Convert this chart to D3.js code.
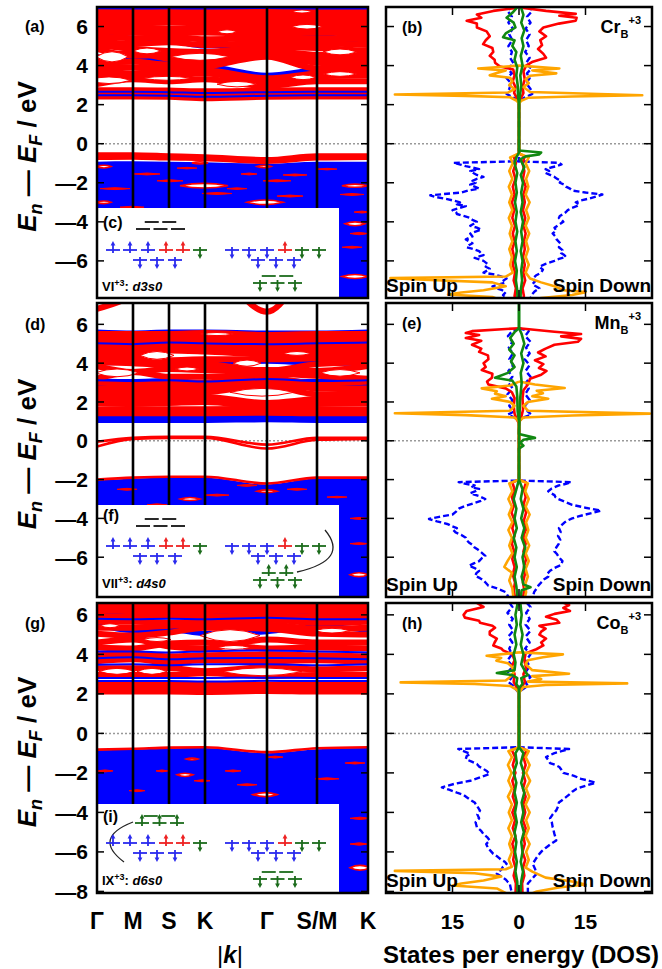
<!DOCTYPE html>
<html>
<head>
<meta charset="utf-8">
<script src="https://cdn.jsdelivr.net/npm/d3@7"></script>
<style>
body { margin: 0; background: #fff; }
text { font-family: "Liberation Sans", Arial, sans-serif; }
</style>
</head>
<body>
<div id="chart"></div>
<script>
const width = 662;
const height = 969;

// k path
const kLabels = ["Γ", "M", "S", "K", "Γ", "S/M", "K"];
const kPos = [0, 36, 72, 108, 170, 220, 271];
const eTicks = [-6, -4, -2, 0, 2, 4, 6];
const eTicksLast = [-8, -6, -4, -2, 0, 2, 4, 6];
const dosTicks = [-15, 0, 15];

// ---------- (a) Cr bands: energies at the 7 k points ----------
const aRed = [
  [2.42, 2.42, 2.40, 2.33, 2.40, 2.42, 2.42],
  [2.58, 2.58, 2.56, 2.50, 2.56, 2.58, 2.58],
  [2.74, 2.74, 2.72, 2.68, 2.72, 2.74, 2.74],
  [3.05, 3.30, 3.20, 3.30, 2.95, 3.20, 3.20],
  [3.50, 3.40, 3.50, 3.60, 3.15, 3.45, 3.50],
  [3.75, 3.60, 3.70, 3.75, 3.35, 3.60, 3.70],
  [3.95, 3.90, 3.85, 3.95, 4.45, 3.85, 3.95],
  [4.15, 4.20, 4.05, 4.10, 4.60, 4.15, 4.10],
  [4.40, 4.65, 4.35, 4.25, 4.55, 4.30, 4.35],
  [4.85, 4.50, 4.55, 4.45, 4.75, 4.55, 4.50],
  [5.05, 4.85, 4.75, 4.70, 4.95, 4.90, 4.75],
  [5.30, 5.10, 5.20, 5.05, 5.15, 5.15, 5.05],
  [5.50, 5.40, 5.45, 5.35, 5.40, 5.40, 5.35],
  [5.75, 5.70, 5.65, 5.70, 5.60, 5.70, 5.60],
  [5.95, 5.95, 5.90, 5.95, 5.85, 5.90, 5.85],
  [6.20, 6.15, 6.20, 6.20, 6.10, 6.15, 6.10],
  [6.40, 6.40, 6.45, 6.45, 6.35, 6.40, 6.35],
  [6.65, 6.65, 6.70, 6.65, 6.60, 6.60, 6.60],
  [6.85, 6.85, 6.85, 6.85, 6.80, 6.80, 6.80]
];
const aBlue = [
  [6.95, 6.93, 6.95, 6.93, 6.95, 6.93, 6.93],
  [5.65, 5.40, 5.30, 5.00, 5.15, 5.50, 5.05],
  [4.45, 4.35, 4.30, 4.55, 4.55, 4.40, 4.60],
  [3.85, 3.90, 3.85, 3.95, 3.50, 3.80, 3.90]
];
const aBlueTop = [
  [2.48, 2.48, 2.46, 2.40, 2.46, 2.48, 2.48],
  [2.66, 2.66, 2.64, 2.60, 2.64, 2.66, 2.66],
  [6.93, 6.92, 6.93, 6.92, 6.95, 6.92, 6.92]
];
const aValRed = [
  [-0.55, -0.55, -0.60, -0.65, -0.80, -0.60, -0.60],
  [-0.72, -0.70, -0.75, -0.78, -0.92, -0.75, -0.72]
];
const aValTop = [-0.92, -0.90, -0.92, -0.95, -1.02, -0.92, -0.92];
// openings between conduction bands: [k, energy, half width in k, half height in eV]
const aGapC = [[50, 4.75, 14, 0.15], [15, 4.45, 16, 0.26], [103, 4.45, 30, 0.18], [130, 5.73, 10, 0.1],
  [210, 5.99, 16, 0.12], [243, 4.7, 17, 0.15], [243, 3.57, 17, 0.12], [206, 3.4, 13, 0.12],
  [205, 6.77, 10, 0.08], [140, 3.05, 20, 0.14], [12, 3.25, 22, 0.17], [70, 3.35, 25, 0.1]];
const aLens = [[7, -1.17, 7, 0.07], [103, -0.98, 8, 0.05], [167, -1.17, 7, 0.06], [107, -2.15, 24, 0.12],
  [258, -2.15, 13, 0.08], [168, -3.0, 18, 0.12], [7, -3.0, 7, 0.07], [258, -4.1, 10, 0.1], [258, -6.8, 13, 0.1]];
const aStreak = [[50, -1.55, 13, 0.05], [73, -1.9, 13, 0.05], [152, -1.55, 8, 0.05], [198, -1.6, 12, 0.05],
  [180, -1.9, 14, 0.05], [18, -2.3, 15, 0.05], [193, -2.68, 13, 0.05], [35, -3.25, 12, 0.05],
  [120, -2.55, 15, 0.05], [255, -2.6, 12, 0.05], [265, -3.5, 8, 0.05], [262, -4.6, 9, 0.06], [255, -5.3, 10, 0.05],
  [90, -1.25, 10, 0.04], [230, -1.3, 10, 0.04], [140, -2.3, 10, 0.04]];

// ---------- (d) Mn bands ----------
const dRed = [
  [1.42, 1.42, 1.42, 1.42, 1.45, 1.42, 1.42],
  [1.62, 1.62, 1.62, 1.62, 1.65, 1.62, 1.62],
  [1.95, 1.90, 1.95, 2.00, 1.75, 1.90, 1.95],
  [2.20, 2.15, 2.20, 2.25, 1.95, 2.15, 2.20],
  [2.45, 2.45, 2.45, 2.50, 2.85, 2.40, 2.45],
  [2.70, 2.70, 2.70, 2.75, 3.05, 2.70, 2.70],
  [3.00, 2.95, 2.95, 3.00, 3.25, 2.95, 3.05],
  [3.20, 3.55, 3.30, 3.30, 3.45, 3.35, 3.20],
  [3.85, 3.55, 3.70, 3.65, 3.65, 3.60, 3.85],
  [4.05, 4.00, 3.90, 3.95, 3.60, 3.95, 4.05],
  [4.30, 4.25, 4.15, 4.20, 4.20, 4.25, 4.30],
  [4.55, 4.50, 4.65, 4.60, 4.45, 4.50, 4.55],
  [4.80, 4.75, 4.85, 4.85, 4.70, 4.75, 4.80],
  [5.05, 5.00, 5.10, 5.10, 4.95, 5.00, 5.05],
  [5.30, 5.25, 5.30, 5.35, 5.20, 5.25, 5.30],
  [5.50, 5.50, 5.50, 5.55, 5.45, 5.50, 5.50],
  [6.80, 7.50, 9.00, 9.00, 6.65, 9.00, 9.00]
];
const dNearZero = [
  [-0.30, 0.10, 0.15, 0.15, -0.40, 0.05, 0.10],
  [-0.05, 0.15, 0.20, 0.20, -0.20, 0.15, 0.15]
];
const dBlue = [
  [1.05, 1.05, 1.05, 1.05, 1.08, 1.05, 1.05],
  [1.20, 1.20, 1.20, 1.20, 1.22, 1.20, 1.20],
  [2.85, 2.90, 2.85, 2.90, 2.60, 2.90, 2.85],
  [3.10, 3.05, 3.10, 3.00, 3.15, 3.05, 3.10],
  [4.00, 4.05, 3.95, 4.00, 4.10, 4.00, 4.00],
  [5.00, 4.95, 5.05, 5.00, 4.95, 5.00, 5.05],
  [5.60, 5.55, 5.60, 5.60, 5.55, 5.55, 5.60]
];
const dBlueTop = [
  [3.12, 3.08, 3.12, 3.05, 3.18, 3.08, 3.12],
  [5.02, 4.98, 5.06, 5.02, 4.98, 5.02, 5.06]
];
const dGapC = [[60, 4.4, 17, 0.2], [150, 4.0, 14, 0.16], [20, 3.5, 22, 0.2], [243, 3.5, 20, 0.17],
  [165, 2.5, 32, 0.2], [120, 5.5, 17, 0.08], [90, 3.7, 12, 0.1], [200, 4.5, 14, 0.1]];
const dValRed = [[-2.00, -1.90, -1.85, -1.85, -2.20, -1.90, -1.90]];
const dValTop = [-2.05, -1.95, -1.90, -1.90, -2.25, -1.95, -1.95];
const dLens = [[93, -3.0, 10, 0.08], [262, -6.9, 9, 0.1], [170, -2.6, 10, 0.07]];
const dStreak = [[30, -2.5, 10, 0.05], [120, -2.8, 12, 0.05], [200, -2.5, 10, 0.05], [262, -4.0, 9, 0.05],
  [262, -5.3, 9, 0.05], [60, -3.3, 10, 0.05], [150, -2.3, 10, 0.05], [240, -2.9, 10, 0.04]];

// ---------- (g) Co bands ----------
const gRed = [
  [2.12, 2.12, 2.12, 2.10, 2.15, 2.12, 2.12],
  [2.30, 2.30, 2.30, 2.28, 2.32, 2.30, 2.30],
  [2.45, 2.45, 2.45, 2.45, 2.47, 2.45, 2.45],
  [2.95, 2.95, 2.95, 3.05, 2.90, 2.95, 2.95],
  [3.30, 3.30, 3.30, 3.15, 3.35, 3.25, 3.30],
  [3.65, 3.75, 3.60, 3.70, 3.65, 3.70, 3.60],
  [3.95, 4.00, 3.90, 3.95, 4.00, 3.95, 3.90],
  [4.35, 4.30, 4.55, 4.60, 4.30, 4.35, 4.30],
  [4.60, 4.75, 4.40, 4.30, 4.75, 4.60, 4.60],
  [5.05, 4.95, 5.10, 5.35, 5.30, 5.05, 5.00],
  [5.35, 5.35, 5.45, 5.50, 5.50, 5.30, 5.35],
  [5.65, 5.65, 5.60, 5.65, 5.75, 5.60, 5.65],
  [5.95, 5.90, 5.95, 5.90, 6.00, 5.90, 5.90],
  [6.25, 6.20, 6.20, 6.20, 6.25, 6.20, 6.20],
  [6.50, 6.50, 6.50, 6.50, 6.50, 6.50, 6.50]
];
const gBlue = [
  [5.50, 5.20, 5.25, 5.05, 5.15, 5.45, 5.20],
  [6.05, 6.10, 6.05, 6.10, 6.10, 6.05, 6.10]
];
const gBlueTop = [
  [2.65, 2.65, 2.65, 2.63, 2.66, 2.65, 2.65],
  [2.80, 2.80, 2.80, 2.80, 2.82, 2.80, 2.80],
  [3.48, 3.50, 3.45, 3.50, 3.50, 3.45, 3.50],
  [3.80, 3.85, 3.75, 3.80, 3.82, 3.80, 3.75],
  [4.15, 4.15, 4.10, 4.15, 4.20, 4.15, 4.10],
  [5.80, 5.78, 5.80, 5.78, 5.85, 5.78, 5.78]
];
const gGapC = [[20, 3.14, 18, 0.15], [55, 3.14, 15, 0.15], [165, 3.12, 40, 0.2], [133, 4.95, 30, 0.3],
  [13, 5.45, 10, 0.1], [137, 4.35, 17, 0.1], [235, 5.2, 18, 0.12], [60, 4.75, 14, 0.1]];
const gValRed = [[-0.82, -0.78, -0.72, -0.70, -0.95, -0.75, -0.70]];
const gValTop = [-0.86, -0.82, -0.76, -0.74, -1.00, -0.80, -0.74];
const gLens = [[88, -2.1, 8, 0.08], [168, -3.1, 12, 0.1], [263, -6.8, 10, 0.12], [95, -1.3, 6, 0.05]];
const gStreak = [[8, -1.9, 8, 0.05], [65, -1.9, 6, 0.05], [136, -1.9, 8, 0.05], [178, -1.2, 8, 0.05],
  [105, -2.4, 8, 0.05], [263, -4.3, 10, 0.06], [258, -1.5, 10, 0.05], [40, -2.9, 8, 0.05],
  [150, -2.6, 10, 0.05], [230, -2.3, 12, 0.05], [262, -5.6, 9, 0.06]];

// ---------- DOS: [energy, states]; spin up drawn to the left ----------
const bRedUp = [[7.1,0],[6.95,0.6],[6.8,5.8],[6.62,9.5],[6.45,8.5],[6.3,11.8],[6.15,9.5],[5.95,9.5],[5.75,7.3],[5.5,6.6],[5.3,7.5],[5.1,8.1],[4.9,6],[4.7,5.8],[4.5,6.6],[4.3,5.5],[4.15,5.4],[3.95,4.3],[3.8,1.3],[3.5,1.0],[3.2,1.4],[2.9,0.8],[2.6,1.1],[2.3,0.4],[2.1,0],[-0.5,0],[-0.65,1.2],[-1.0,0.7],[-1.4,1.3],[-1.8,0.8],[-2.2,1.4],[-2.6,1.0],[-3.0,1.6],[-3.4,1.1],[-3.8,1.5],[-4.2,0.9],[-4.6,1.4],[-5.0,1.0],[-5.4,1.5],[-5.8,1.1],[-6.2,1.4],[-6.6,0.9],[-7.0,1.2],[-7.4,0.7],[-7.8,1.0],[-8.2,0.6]];
const bRedDn = [[7.1,0],[6.95,1],[6.8,6.1],[6.65,12.8],[6.55,9.1],[6.45,13],[6.3,12.8],[6.15,9],[5.95,5.5],[5.75,4.6],[5.5,6.1],[5.3,4.8],[5.05,5.2],[4.85,4.3],[4.6,5.5],[4.4,6.1],[4.2,3.1],[4.0,1.6],[3.7,1.0],[3.3,1.3],[2.9,0.8],[2.6,1.0],[2.3,0.4],[2.1,0],[-0.5,0],[-0.65,1.3],[-1.0,0.8],[-1.4,1.2],[-1.8,0.9],[-2.2,1.5],[-2.6,1.0],[-3.0,1.3],[-3.4,0.9],[-3.8,1.4],[-4.2,1.0],[-4.6,1.5],[-5.0,1.1],[-5.4,1.3],[-5.8,0.9],[-6.2,1.3],[-6.6,1.0],[-7.0,1.4],[-7.4,0.8],[-7.8,1.1],[-8.2,0.6]];
const bOrgUp = [[4.0,0],[3.85,9.2],[3.75,3],[3.62,5],[3.5,6.6],[3.38,2],[3.2,1.5],[3.0,2.2],[2.8,1],[2.62,2.5],[2.52,28],[2.45,12],[2.38,2],[2.2,0.5],[2.05,0],[-0.5,0],[-0.7,2.0],[-1.0,1.4],[-1.4,2.2],[-1.8,1.5],[-2.2,2.3],[-2.6,1.6],[-3.0,2.2],[-3.4,1.5],[-3.8,2.3],[-4.2,1.6],[-4.6,2.1],[-5.0,1.5],[-5.4,2.2],[-5.8,1.6],[-6.2,2.0],[-6.6,1.4],[-6.8,3],[-6.88,29],[-6.98,20],[-7.1,6],[-7.3,3],[-7.5,8],[-7.62,13],[-7.72,16],[-7.85,6],[-8.2,2]];
const bOrgDn = [[4.0,0],[3.85,9.1],[3.75,3],[3.6,8.4],[3.48,2.5],[3.3,1.5],[3.1,2.2],[2.9,1],[2.65,2.5],[2.48,27.8],[2.42,12],[2.35,2],[2.2,0.5],[2.05,0],[-0.5,0],[-0.7,2.2],[-1.0,1.5],[-1.4,2.3],[-1.8,1.6],[-2.2,2.1],[-2.6,1.5],[-3.0,2.4],[-3.4,1.6],[-3.8,2.2],[-4.2,1.5],[-4.6,2.3],[-5.0,1.6],[-5.4,2.1],[-5.8,1.5],[-6.2,2.2],[-6.6,1.5],[-6.9,2.5],[-7.1,5],[-7.3,8],[-7.5,10],[-7.6,15],[-7.75,12],[-7.9,5],[-8.2,2]];
const bBluUp = [[7.1,1.5],[6.8,2.6],[6.5,1.6],[6.2,2.4],[5.9,1.4],[5.6,2.2],[5.3,1.5],[5.0,2.4],[4.7,1.6],[4.4,2.0],[4.1,1.2],[3.85,2.6],[3.6,1.6],[3.35,2.8],[3.1,1.8],[2.8,2.2],[2.55,2.8],[2.35,1.2],[2.15,0],[-0.9,0],[-0.98,14.8],[-1.08,13],[-1.15,12],[-1.22,10.5],[-1.3,9],[-1.4,11],[-1.5,10.3],[-1.6,9.5],[-1.7,8],[-1.8,9.5],[-1.9,10.5],[-2.0,9.8],[-2.1,11],[-2.2,10],[-2.3,9],[-2.4,11.5],[-2.5,13],[-2.58,17],[-2.64,20],[-2.72,19],[-2.8,17],[-2.9,15],[-3.0,13.3],[-3.1,14],[-3.2,12],[-3.3,13.5],[-3.4,15],[-3.5,14.2],[-3.6,14],[-3.7,12.5],[-3.8,11],[-3.9,10.5],[-4.0,9.5],[-4.1,10.2],[-4.2,11],[-4.3,9.5],[-4.4,8.5],[-4.5,9.8],[-4.6,11],[-4.75,10.5],[-4.9,12],[-5.0,11.2],[-5.1,10.5],[-5.2,11.3],[-5.3,11.8],[-5.4,10.2],[-5.5,9],[-5.6,8.6],[-5.7,8],[-5.78,9.2],[-5.85,10],[-5.92,9],[-6.0,8],[-6.1,7.4],[-6.2,7],[-6.3,7.5],[-6.4,6.6],[-6.5,7.2],[-6.6,8],[-6.7,5.5],[-6.8,4],[-6.9,2.8],[-7.0,3.5],[-7.1,3],[-7.2,4.5],[-7.3,6],[-7.4,5],[-7.5,3.8],[-7.6,3],[-7.75,3.6],[-7.9,2.8],[-8.2,3]];
const bBluDn = [[7.1,2.2],[6.8,3.0],[6.5,1.8],[6.2,2.6],[5.9,1.5],[5.6,2.4],[5.3,1.6],[5.0,2.2],[4.7,1.4],[4.4,2.4],[4.1,1.5],[3.85,2.8],[3.6,1.8],[3.35,2.4],[3.1,1.6],[2.8,2.6],[2.55,3.0],[2.35,1.2],[2.15,0],[-0.9,0],[-0.98,9],[-1.06,9.6],[-1.15,8.5],[-1.22,7.2],[-1.3,6],[-1.4,6.8],[-1.5,6],[-1.6,7],[-1.7,8],[-1.8,8.6],[-1.9,9.5],[-2.0,9.2],[-2.1,10.2],[-2.2,10.6],[-2.3,11.5],[-2.4,12],[-2.5,15],[-2.6,18.8],[-2.7,17.5],[-2.8,16],[-2.9,14],[-3.0,12.8],[-3.1,13.6],[-3.2,13],[-3.3,11.8],[-3.4,11],[-3.5,10.6],[-3.6,10],[-3.7,9.2],[-3.8,9],[-3.9,9.6],[-4.0,10],[-4.15,9],[-4.3,8],[-4.45,8.4],[-4.6,7.6],[-4.75,8.2],[-4.9,8.5],[-5.1,9.3],[-5.3,9],[-5.45,9.8],[-5.6,9.5],[-5.7,10.2],[-5.8,10.6],[-5.9,9],[-6.0,8],[-6.15,6],[-6.3,4.6],[-6.45,5.4],[-6.6,5],[-6.75,3.8],[-6.9,3.1],[-7.05,3.6],[-7.2,3],[-7.3,3.8],[-7.4,4.6],[-7.55,3.6],[-7.7,3],[-8.2,2]];
const bGrnUp = [[7.1,0],[6.95,0.5],[6.7,1.5],[6.45,2.8],[6.2,1.2],[5.95,0.8],[5.65,3.0],[5.45,3.6],[5.3,1.0],[5.0,1.5],[4.7,0.6],[4.3,1.0],[3.9,0.4],[3.5,0.6],[3.0,0.3],[2.4,0.2],[2.0,0],[-0.45,0],[-0.7,0.6],[-1.0,1.0],[-1.5,0.4],[-2.0,0.8],[-2.5,0.5],[-3.0,0.9],[-3.5,0.5],[-4.0,0.8],[-4.5,0.4],[-5.0,0.8],[-5.5,0.5],[-6.0,0.9],[-6.5,0.5],[-7.0,0.7],[-7.5,0.4],[-8.2,0.3]];
const bGrnDn = [[7.1,0],[6.95,0.5],[6.6,1.0],[6.2,0.5],[5.8,1.2],[5.4,0.6],[5.0,1.0],[4.5,0.4],[4.0,0.8],[3.5,0.3],[3.0,0.5],[2.0,0],[-0.35,0],[-0.45,5],[-0.55,4.5],[-0.65,1.5],[-0.8,0.3],[-1.2,1.2],[-1.6,0.4],[-2.0,0.9],[-2.5,0.5],[-3.0,0.8],[-3.5,0.4],[-4.0,0.9],[-4.5,0.5],[-5.0,0.8],[-5.5,0.4],[-6.0,0.8],[-6.5,0.5],[-7.0,0.7],[-7.5,0.4],[-8.2,0.3]];

const eRedUp = [[5.8,0],[5.65,10.6],[5.55,12],[5.45,9],[5.3,12],[5.15,8.5],[4.95,10.6],[4.75,8.5],[4.58,9],[4.4,7],[4.2,6.9],[4.0,8],[3.8,7.5],[3.65,8.4],[3.45,6],[3.25,6.1],[3.05,7.2],[2.9,6.9],[2.7,3],[2.5,1.6],[2.2,1.0],[1.8,1.2],[1.4,1.0],[1.1,0.5],[0.9,0],[-2.0,0],[-2.15,1.5],[-2.5,1.0],[-2.9,1.6],[-3.3,1.1],[-3.7,1.7],[-4.1,1.0],[-4.5,1.5],[-4.9,1.0],[-5.3,1.6],[-5.7,1.1],[-6.1,1.5],[-6.5,1.0],[-6.9,1.4],[-7.3,0.9],[-7.7,1.2],[-8.2,0.8]];
const eRedDn = [[5.8,0],[5.62,8],[5.5,14],[5.38,9.5],[5.25,14],[5.1,13.3],[4.95,8],[4.75,6],[4.55,4.3],[4.35,6],[4.15,3.6],[3.95,5.5],[3.75,4.5],[3.6,6.2],[3.4,5],[3.2,2.5],[2.9,2],[2.6,1],[2.2,0.8],[1.6,0.9],[1.2,0.5],[0.9,0],[-2.0,0],[-2.15,1.6],[-2.5,1.1],[-2.9,1.5],[-3.3,1.0],[-3.7,1.6],[-4.1,1.1],[-4.5,1.7],[-4.9,1.0],[-5.3,1.5],[-5.7,1.0],[-6.1,1.6],[-6.5,1.1],[-6.9,1.3],[-7.3,0.9],[-7.7,1.2],[-8.2,0.8]];
const eOrgUp = [[3.05,0],[2.85,2],[2.7,8.4],[2.55,5],[2.43,5.4],[2.3,3],[2.17,6.1],[2.0,2],[1.8,1],[1.55,2],[1.42,28],[1.32,12],[1.2,1],[1.0,0],[-2.0,0],[-2.2,2.2],[-2.6,1.5],[-3.0,2.4],[-3.4,1.6],[-3.8,2.3],[-4.2,1.5],[-4.6,2.4],[-5.0,1.6],[-5.4,2.2],[-5.8,1.5],[-6.2,2.6],[-6.5,3.3],[-6.8,1.6],[-7.2,2.2],[-7.6,1.5],[-8.2,1.2]];
const eOrgDn = [[3.05,0],[2.9,3.6],[2.72,10.3],[2.58,4],[2.45,5.4],[2.3,3],[2.17,6.6],[2.0,2],[1.8,1],[1.55,2],[1.4,29.5],[1.3,12],[1.2,1],[1.0,0],[-2.0,0],[-2.2,2.0],[-2.6,1.4],[-3.0,2.2],[-3.4,1.5],[-3.8,2.4],[-4.2,1.6],[-4.6,2.1],[-5.0,1.5],[-5.4,2.3],[-5.8,1.5],[-6.2,2.2],[-6.6,1.5],[-7.0,2.0],[-7.4,1.4],[-7.8,1.6],[-8.2,1.2]];
const eBluUp = [[5.8,0],[5.65,1.5],[5.4,2.5],[5.1,1.5],[4.8,2.3],[4.5,1.4],[4.2,2.2],[3.9,1.3],[3.6,2.4],[3.3,1.5],[3.0,2.5],[2.7,1.4],[2.4,2.6],[2.1,1.5],[1.8,2.2],[1.5,1.2],[1.35,2.5],[1.2,1.0],[1.0,0],[-2.05,0],[-2.13,13.6],[-2.22,12],[-2.3,10],[-2.4,10.8],[-2.48,9],[-2.6,9.8],[-2.7,11],[-2.85,9],[-3.0,7.6],[-3.1,8.6],[-3.2,10],[-3.35,12],[-3.5,13.6],[-3.65,14.2],[-3.8,15],[-3.92,18],[-4.03,20.3],[-4.15,18.5],[-4.3,16],[-4.4,15.2],[-4.5,14],[-4.6,14.8],[-4.72,14.3],[-4.85,13],[-5.0,12],[-5.12,11.8],[-5.24,11.3],[-5.38,10.4],[-5.5,10],[-5.62,9.2],[-5.75,8.5],[-5.85,8],[-5.93,7.6],[-6.05,8.4],[-6.2,9],[-6.32,10.2],[-6.44,11.3],[-6.56,10],[-6.7,9],[-6.82,9.6],[-6.96,9.9],[-7.08,8.8],[-7.2,8],[-7.34,7.4],[-7.47,6.9],[-7.62,4.8],[-7.8,3],[-8.2,2]];
const eBluDn = [[5.8,0],[5.65,2.2],[5.4,1.4],[5.1,2.6],[4.8,1.6],[4.5,2.4],[4.2,1.3],[3.9,2.4],[3.6,1.5],[3.3,2.6],[3.0,1.6],[2.7,2.2],[2.4,1.4],[2.1,2.4],[1.8,1.3],[1.5,2.0],[1.35,2.8],[1.2,1.0],[1.0,0],[-2.05,0],[-2.13,11.8],[-2.22,10.6],[-2.3,9],[-2.45,7.4],[-2.6,6.6],[-2.7,7.2],[-2.8,8],[-2.9,8.2],[-3.0,8.8],[-3.15,10.4],[-3.3,12],[-3.45,15],[-3.6,18.5],[-3.7,16.8],[-3.8,15],[-3.9,13.4],[-4.0,12],[-4.1,11],[-4.2,10.3],[-4.35,9.6],[-4.5,9],[-4.7,9.4],[-4.9,8.8],[-5.1,9.3],[-5.3,9],[-5.5,8.4],[-5.7,8],[-5.85,8.6],[-6.0,9],[-6.2,9.8],[-6.4,9.5],[-6.55,8],[-6.7,7],[-6.85,6.4],[-7.0,6.6],[-7.15,5.6],[-7.3,5],[-7.45,4.4],[-7.6,4],[-7.8,3.4],[-8.2,3]];
const eGrnUp = [[7.1,0],[5.8,0],[5.6,1.0],[5.3,2.0],[5.0,1.2],[4.7,2.2],[4.4,1.0],[4.1,1.8],[3.8,1.0],[3.5,2.5],[3.25,5.4],[3.1,1.5],[2.8,0.6],[2.3,0.4],[1.5,0.3],[1.0,0],[-2.0,0],[-2.5,0.6],[-3.0,1.2],[-3.5,0.6],[-4.0,1.0],[-4.5,0.5],[-5.0,1.2],[-5.5,0.6],[-6.0,1.0],[-6.5,0.5],[-7.0,1.0],[-7.5,0.6],[-8.2,0.3]];
const eGrnDn = [[7.1,0],[5.8,0],[5.5,0.6],[5.0,1.2],[4.5,0.5],[4.0,1.0],[3.5,0.4],[3.0,0.6],[2.0,0.2],[0.35,0],[0.15,3.6],[0.05,1.0],[-0.1,0.3],[-0.25,1.0],[-0.4,0],[-2.0,0],[-2.5,0.8],[-3.0,0.4],[-3.5,1.0],[-4.0,0.5],[-4.5,1.2],[-5.0,0.6],[-5.5,1.4],[-6.0,0.8],[-6.5,1.2],[-7.0,0.6],[-7.4,1.0],[-7.55,2.6],[-7.7,0.6],[-8.2,0.3]];

const hRedUp = [[7.0,10],[6.6,9.5],[6.4,8],[6.2,11.8],[6.0,12.5],[5.86,12.2],[5.7,9],[5.6,8.8],[5.45,6],[5.35,5.4],[5.15,6.6],[5.0,6.6],[4.8,5],[4.6,5.5],[4.45,5.8],[4.3,4],[4.2,3.6],[4.0,1.5],[3.7,1.0],[3.4,1.6],[3.0,1.0],[2.6,1.2],[2.3,0.5],[2.1,0],[-0.7,0],[-0.85,1.6],[-1.2,0.9],[-1.6,1.4],[-2.0,0.8],[-2.4,1.5],[-2.8,1.0],[-3.2,1.4],[-3.6,0.8],[-4.0,1.5],[-4.4,0.9],[-4.8,1.4],[-5.2,0.8],[-5.6,1.5],[-6.0,1.0],[-6.4,1.3],[-6.8,0.8],[-7.2,1.2],[-7.6,0.7],[-8.2,0.8]];
const hRedDn = [[7.0,6],[6.7,9.1],[6.5,11.3],[6.35,10],[6.2,11.5],[6.05,8],[5.9,6.1],[5.75,8.5],[5.6,9.1],[5.45,4.6],[5.3,6],[5.15,5],[5.0,4.6],[4.8,6.1],[4.6,5],[4.45,5.5],[4.26,3.9],[4.05,1.5],[3.7,1.2],[3.3,1.6],[3.0,1.0],[2.6,1.3],[2.3,0.5],[2.1,0],[-0.7,0],[-0.85,1.7],[-1.2,1.0],[-1.6,1.5],[-2.0,0.9],[-2.4,1.4],[-2.8,0.9],[-3.2,1.5],[-3.6,1.0],[-4.0,1.4],[-4.4,0.9],[-4.8,1.5],[-5.2,1.0],[-5.6,1.3],[-6.0,0.8],[-6.4,1.4],[-6.8,0.9],[-7.2,1.2],[-7.6,0.7],[-8.2,0.8]];
const hOrgUp = [[4.1,0],[3.93,7.3],[3.82,4],[3.68,5.1],[3.55,2.5],[3.35,1.5],[3.1,1.2],[2.85,2],[2.68,3],[2.58,26.7],[2.5,10],[2.4,2],[2.2,0.5],[2.05,0],[-0.7,0],[-0.9,2.4],[-1.2,1.6],[-1.6,2.5],[-2.0,1.7],[-2.4,2.4],[-2.8,1.6],[-3.2,2.5],[-3.6,1.6],[-4.0,2.3],[-4.4,1.6],[-4.8,2.4],[-5.2,1.6],[-5.6,2.2],[-6.0,1.6],[-6.4,2.3],[-6.75,1.6],[-6.88,3],[-6.96,28],[-7.08,10],[-7.25,4],[-7.45,8],[-7.6,13],[-7.7,15],[-7.85,5],[-8.2,2]];
const hOrgDn = [[4.1,0],[4.0,9.9],[3.85,5.4],[3.7,2],[3.5,1.5],[3.2,3],[3.02,11.3],[2.9,3],[2.75,5],[2.62,2],[2.53,24.4],[2.45,6],[2.35,1],[2.2,0.5],[2.05,0],[-0.7,0],[-0.9,2.2],[-1.2,1.5],[-1.6,2.4],[-2.0,1.6],[-2.4,2.5],[-2.8,1.6],[-3.2,2.3],[-3.6,1.5],[-4.0,2.4],[-4.4,1.6],[-4.8,2.2],[-5.2,1.5],[-5.6,2.4],[-6.0,1.6],[-6.4,2.2],[-6.8,1.5],[-7.0,3],[-7.3,6],[-7.5,12],[-7.65,15],[-7.8,9],[-8.0,4],[-8.2,2]];
const hBluUp = [[7.0,1.5],[6.7,2.4],[6.4,1.5],[6.1,2.6],[5.8,1.4],[5.5,2.2],[5.2,1.3],[4.9,2.4],[4.6,1.5],[4.3,2.2],[4.0,1.6],[3.7,2.6],[3.4,1.4],[3.1,2.5],[2.85,1.6],[2.6,2.4],[2.4,1.2],[2.2,0.6],[2.05,0],[-0.7,0],[-0.79,13.7],[-0.9,12.5],[-1.04,11],[-1.15,11.8],[-1.3,12],[-1.42,10.8],[-1.55,9.5],[-1.68,9],[-1.8,8],[-1.92,7.2],[-2.05,6.6],[-2.2,8.4],[-2.4,11],[-2.55,14.5],[-2.73,17.4],[-2.85,15.8],[-3.0,14],[-3.1,12.6],[-3.23,11.8],[-3.36,11],[-3.5,10],[-3.7,9.4],[-3.91,8.8],[-4.1,9.4],[-4.3,9],[-4.5,9.8],[-4.75,9.5],[-4.92,8.6],[-5.1,8],[-5.25,7.2],[-5.42,6.6],[-5.6,7.4],[-5.8,7],[-5.95,6.4],[-6.1,5.8],[-6.25,4.8],[-6.4,4],[-6.5,3.2],[-6.6,2.8],[-6.75,3.6],[-6.9,4],[-7.0,4.6],[-7.1,5],[-7.25,4],[-7.4,3],[-7.5,2.6],[-7.6,2.1],[-8.2,1.5]];
const hBluDn = [[7.0,2.2],[6.7,1.4],[6.4,2.6],[6.1,1.6],[5.8,2.4],[5.5,1.5],[5.2,2.6],[4.9,1.5],[4.6,2.4],[4.3,1.4],[4.0,2.6],[3.7,1.6],[3.4,2.4],[3.1,1.5],[2.85,2.6],[2.6,1.4],[2.4,2.0],[2.2,0.6],[2.05,0],[-0.7,0],[-0.79,11.3],[-0.9,9.6],[-1.0,8],[-1.1,7],[-1.2,6.1],[-1.35,6.6],[-1.5,7],[-1.6,8.2],[-1.7,9.1],[-1.85,9.6],[-2.0,10],[-2.15,12.4],[-2.3,14],[-2.4,15.8],[-2.5,17.3],[-2.65,15],[-2.8,13],[-2.95,12],[-3.1,11.3],[-3.3,10.2],[-3.5,9],[-3.7,8.8],[-3.9,8.4],[-4.1,7.6],[-4.3,7],[-4.5,7.4],[-4.75,7.6],[-4.92,7.8],[-5.1,8],[-5.25,8.2],[-5.42,8.4],[-5.6,7.2],[-5.8,6],[-5.95,5.2],[-6.1,4.6],[-6.35,3.8],[-6.6,3.1],[-6.85,3.6],[-7.1,4],[-7.35,3],[-7.6,2],[-8.2,2]];
const hGrnUp = [[7.0,0],[6.6,0.3],[6.0,0.8],[5.5,0.5],[5.0,1.0],[4.5,0.6],[4.0,1.2],[3.6,0.8],[3.2,1.0],[3.06,5],[2.95,1.5],[2.8,0.4],[2.5,0.6],[2.3,0],[-0.7,0],[-1.0,0.8],[-1.5,0.5],[-2.0,1.2],[-2.5,0.6],[-3.0,1.0],[-3.5,0.5],[-4.0,0.9],[-4.5,0.5],[-5.0,1.0],[-5.5,0.6],[-6.0,0.9],[-6.5,0.5],[-7.0,0.8],[-7.5,0.4],[-8.2,0.3]];
const hGrnDn = [[7.0,0],[6.6,0.3],[6.0,0.6],[5.5,0.3],[5.0,0.8],[4.5,0.4],[4.0,1.0],[3.5,0.5],[3.1,1.5],[2.95,2.0],[2.8,0.5],[2.5,0.8],[2.3,0],[-0.7,0],[-1.0,1.0],[-1.5,0.4],[-2.0,1.1],[-2.5,0.5],[-3.0,1.2],[-3.5,0.6],[-4.0,1.0],[-4.5,0.5],[-5.0,1.1],[-5.5,0.5],[-6.0,0.8],[-6.5,0.4],[-7.0,0.9],[-7.5,0.5],[-8.2,0.3]];

// colours
const RED = "#ff0000", BLUE = "#0000ff", ORANGE = "#ffa500", GREEN = "#118811";
const IBLUE = "#2a2aee", IRED = "#ee2222", IGREEN = "#1b6b1b";

const svg = d3.select("#chart").append("svg")
  .attr("width", width).attr("height", height);

const kx = d3.scaleLinear().domain([0, 271]).range([97, 368]);
const dx = d3.scaleLinear().domain([-30, 30]).range([386, 652]);

const rows = [
  { y0: 7, y1: 298, dom: [7.0, -7.9], ticks: eTicks },
  { y0: 303, y1: 597, dom: [7.1, -8.05], ticks: eTicks },
  { y0: 603, y1: 893, dom: [6.6, -8.08], ticks: eTicksLast }
];

let clipId = 0;
function clip(x, y, w, h) {
  const id = "clip" + (clipId++);
  svg.append("clipPath").attr("id", id).append("rect")
    .attr("x", x).attr("y", y).attr("width", w).attr("height", h);
  return svg.append("g").attr("clip-path", `url(#${id})`);
}

function lensPath(d, ey) {
  const cx = kx(d[0]), cy = ey(d[1]);
  const hw = kx(d[0] + d[2]) - cx, hh = Math.abs(ey(d[1] + d[3]) - cy);
  return `M${cx - hw},${cy}Q${cx},${cy - 2 * hh} ${cx + hw},${cy}Q${cx},${cy + 2 * hh} ${cx - hw},${cy}Z`;
}

function bandPanel(row, p) {
  const ey = d3.scaleLinear().domain(row.dom).range([row.y0, row.y1]);
  const line = d3.line().x((d, i) => kx(kPos[i])).y(d => ey(d)).curve(d3.curveMonotoneX);
  const area = d3.area().x((d, i) => kx(kPos[i])).y0(row.y1 + 10).y1(d => ey(d)).curve(d3.curveMonotoneX);
  const g = clip(97, row.y0, 271, row.y1 - row.y0);

  g.append("line").attr("x1", 97).attr("x2", 368).attr("y1", ey(0)).attr("y2", ey(0))
    .attr("stroke", "#999").attr("stroke-width", 1.5).attr("stroke-dasharray", "2,2");

  g.selectAll(null).data(p.blue).join("path").attr("d", line)
    .attr("fill", "none").attr("stroke", BLUE).attr("stroke-width", 5);
  g.append("path").datum(p.valTop).attr("d", area).attr("fill", BLUE);
  g.selectAll(null).data(p.red).join("path").attr("d", line)
    .attr("fill", "none").attr("stroke", RED).attr("stroke-width", 6);
  g.selectAll(null).data(p.gapC).join("path").attr("d", d => lensPath(d, ey))
    .attr("fill", "#fff").attr("stroke", RED).attr("stroke-width", 1);
  g.selectAll(null).data(p.thinRed).join("path").attr("d", line)
    .attr("fill", "none").attr("stroke", RED).attr("stroke-width", p.thinW);
  g.selectAll(null).data(p.blueTop).join("path").attr("d", line)
    .attr("fill", "none").attr("stroke", BLUE).attr("stroke-width", 2);
  g.selectAll(null).data(p.lens).join("path").attr("d", d => lensPath(d, ey))
    .attr("fill", "#fff").attr("stroke", RED).attr("stroke-width", 1.6);
  g.selectAll(null).data(p.streak).join("path").attr("d", d => lensPath(d, ey))
    .attr("fill", RED).attr("stroke", RED).attr("stroke-width", 1);

  // high symmetry lines
  g.selectAll(null).data(kPos.slice(1, 6)).join("line")
    .attr("x1", d => kx(d)).attr("x2", d => kx(d)).attr("y1", row.y0).attr("y2", row.y1)
    .attr("stroke", "#000").attr("stroke-width", 2.6);

  inset(p.inset, row.y1);

  // ticks and frame
  const t = svg.append("g");
  row.ticks.forEach(v => {
    t.append("line").attr("x1", 97).attr("x2", 104).attr("y1", ey(v)).attr("y2", ey(v)).attr("stroke", "#000").attr("stroke-width", 1.5);
    t.append("line").attr("x1", 361).attr("x2", 368).attr("y1", ey(v)).attr("y2", ey(v)).attr("stroke", "#000").attr("stroke-width", 1.5);
    t.append("text").attr("x", 88).attr("y", ey(v)).attr("dy", "0.36em")
      .attr("text-anchor", "end").attr("font-size", 21).attr("font-weight", "bold")
      .text(v < 0 ? "—" + Math.abs(v) : v);
  });
  t.append("rect").attr("x", 97).attr("y", row.y0).attr("width", 271).attr("height", row.y1 - row.y0)
    .attr("fill", "none").attr("stroke", "#000").attr("stroke-width", 2.5);

  svg.append("text").attr("x", 25).attr("y", row.y0 + p.tagDy)
    .attr("font-family", "DejaVu Sans").attr("font-weight", "bold").attr("font-size", 16).text(p.tag);

  // axis label
  const lab = svg.append("text").attr("transform", `translate(36,${(row.y0 + row.y1) / 2 + 4}) rotate(-90)`)
    .attr("text-anchor", "middle").attr("font-size", 26).attr("font-weight", "bold");
  lab.append("tspan").attr("font-style", "italic").text("E");
  lab.append("tspan").attr("font-style", "italic").attr("font-size", 18).attr("dy", 6).text("n");
  lab.append("tspan").attr("dy", -6).text(" — ");
  lab.append("tspan").attr("font-style", "italic").text("E");
  lab.append("tspan").attr("font-style", "italic").attr("font-size", 18).attr("dy", 6).text("F");
  lab.append("tspan").attr("dy", -6).text(" / eV");
}

function level(g, x, y, color, dir) {
  g.append("line").attr("x1", x - 7).attr("x2", x + 7).attr("y1", y).attr("y2", y)
    .attr("stroke", color).attr("stroke-width", 1.8);
  if (!dir) return;
  const tip = y - 9 * dir;
  g.append("line").attr("x1", x).attr("x2", x).attr("y1", y + 3 * dir).attr("y2", tip + 2 * dir)
    .attr("stroke", color).attr("stroke-width", 1.8);
  g.append("path").attr("d", `M${x - 2.4},${tip + 4.5 * dir}L${x},${tip}L${x + 2.4},${tip + 4.5 * dir}Z`)
    .attr("fill", color);
}

// group of five levels: three low, two high in between
function five(g, x0, y, color, lowDir, highDir) {
  [0, 1, 2].forEach(i => level(g, x0 + i * 17.5, y, color, lowDir));
  [0, 1].forEach(i => level(g, x0 + 8.75 + i * 17.5, y - 7, color, highDir));
}

function inset(c, bottom) {
  const T = c.top;
  const g = svg.append("g");
  g.append("rect").attr("x", 97).attr("y", T).attr("width", 242).attr("height", bottom - T).attr("fill", "#fff");
  g.append("text").attr("x", 103).attr("y", T + c.tagDy).attr("font-family", "DejaVu Sans")
    .attr("font-weight", "bold").attr("font-size", 16).text(c.tag);

  if (c.kind === "i") {
    five(g, 142, T + 19, IGREEN, 1, 0);
    g.append("path").attr("d", `M133,${T + 18}Q92,${T + 34} 124,${T + 58}`)
      .attr("fill", "none").attr("stroke", "#222").attr("stroke-width", 1.3);
  } else {
    five(g, 143, T + 21, "#111", 0, 0);
  }
  const up = T + c.rowDy, lo = up + 10;
  const leftUp = [[113, IBLUE, 1], [130, IBLUE, 1], [148, IBLUE, 1], [166, IRED, 1], [183, IRED, 1], [200, IGREEN, -1]];
  const leftLo = [[140, IBLUE, -1], [157, IBLUE, -1], [175, IBLUE, -1]];
  const rightUp = [[232, IBLUE, -1], [249, IBLUE, -1], [267, IBLUE, -1], [285, IRED, 1], [302, IGREEN, -1], [319, IGREEN, -1]];
  const rightLo = [[258, IBLUE, -1], [276, IBLUE, -1], [294, IBLUE, -1]];
  leftUp.concat(rightUp).forEach(d => level(g, d[0], up, d[1], d[2]));
  leftLo.concat(rightLo).forEach(d => level(g, d[0], lo, d[1], d[2]));

  if (c.kind === "f") {
    five(g, 260, T + 75, IGREEN, -1, 1);
    g.append("path").attr("d", `M325,${T + 25}Q350,${T + 55} 297,${T + 67}`)
      .attr("fill", "none").attr("stroke", "#222").attr("stroke-width", 1.3);
  } else {
    five(g, 260, T + 75, IGREEN, -1, 0);
  }

  const lab = g.append("text").attr("x", 102).attr("y", T + c.labDy)
    .attr("font-family", "DejaVu Sans").attr("font-weight", "bold").attr("font-size", 13);
  lab.append("tspan").text(c.ion);
  lab.append("tspan").attr("font-size", 9).attr("dy", -5).text("+3");
  lab.append("tspan").attr("dy", 5).text(": ");
  lab.append("tspan").attr("font-style", "italic").text(c.conf);
}

function dosPanel(row, p) {
  const ey = d3.scaleLinear().domain(row.dom).range([row.y0, row.y1]);
  const g = clip(386, row.y0, 266, row.y1 - row.y0);
  g.append("line").attr("x1", 386).attr("x2", 652).attr("y1", ey(0)).attr("y2", ey(0))
    .attr("stroke", "#999").attr("stroke-width", 1.5).attr("stroke-dasharray", "2,2");
  p.curves.forEach(c => {
    [[c.up, -1], [c.dn, 1]].forEach(([data, s]) => {
      const line = d3.line().x(d => dx(s * d[1])).y(d => ey(d[0]));
      g.append("path").datum(data).attr("d", line).attr("fill", "none")
        .attr("stroke", c.color).attr("stroke-width", c.w)
        .attr("stroke-dasharray", c.dash || null).attr("stroke-linejoin", "round");
    });
  });

  const t = svg.append("g");
  row.ticks.forEach(v => {
    t.append("line").attr("x1", 386).attr("x2", 394).attr("y1", ey(v)).attr("y2", ey(v)).attr("stroke", "#000").attr("stroke-width", 1.5);
    t.append("line").attr("x1", 644).attr("x2", 652).attr("y1", ey(v)).attr("y2", ey(v)).attr("stroke", "#000").attr("stroke-width", 1.5);
  });
  dosTicks.forEach(v => {
    t.append("line").attr("x1", dx(v)).attr("x2", dx(v)).attr("y1", row.y0).attr("y2", row.y0 + 8).attr("stroke", "#000").attr("stroke-width", 1.5);
    t.append("line").attr("x1", dx(v)).attr("x2", dx(v)).attr("y1", row.y1 - 8).attr("y2", row.y1).attr("stroke", "#000").attr("stroke-width", 1.5);
  });
  t.append("rect").attr("x", 386).attr("y", row.y0).attr("width", 266).attr("height", row.y1 - row.y0)
    .attr("fill", "none").attr("stroke", "#000").attr("stroke-width", 2.5);

  const txt = (x, y, size, anchor) => svg.append("text").attr("x", x).attr("y", y)
    .attr("font-family", "DejaVu Sans").attr("font-weight", "bold").attr("font-size", size)
    .attr("text-anchor", anchor || "start");
  txt(402, row.y0 + p.tagDy, 16).text(p.tag);
  const el = txt(641, row.y0 + 26, 18, "end");
  el.append("tspan").text(p.el);
  el.append("tspan").attr("font-size", 11).attr("dy", 5).text("B");
  el.append("tspan").attr("font-size", 11).attr("dy", -14).text("+3");
  txt(386, row.y1 - 6, 19).text("Spin Up");
  txt(651, row.y1 - 6, 19, "end").text("Spin Down");
}

const dosStyle = (bU, bD, rU, rD, oU, oD, gU, gD) => [
  { up: bU, dn: bD, color: BLUE, w: 2.4, dash: "6,3" },
  { up: rU, dn: rD, color: RED, w: 2.6 },
  { up: oU, dn: oD, color: ORANGE, w: 2.6 },
  { up: gU, dn: gD, color: GREEN, w: 2.6 }
];

bandPanel(rows[0], { red: aRed, blue: aBlue, blueTop: aBlueTop, gapC: aGapC, thinRed: aValRed, thinW: 4.5, valTop: aValTop,
  lens: aLens, streak: aStreak, tag: "(a)", tagDy: 25,
  inset: { top: 208, tag: "(c)", tagDy: 20, rowDy: 42, labDy: 83, ion: "VI", conf: "d3s0", kind: "c" } });
bandPanel(rows[1], { red: dRed, blue: dBlue, blueTop: dBlueTop, gapC: dGapC, thinRed: dNearZero.concat(dValRed), thinW: 2.6, valTop: dValTop,
  lens: dLens, streak: dStreak, tag: "(d)", tagDy: 27,
  inset: { top: 505, tag: "(f)", tagDy: 16, rowDy: 41, labDy: 83, ion: "VII", conf: "d4s0", kind: "f" } });
bandPanel(rows[2], { red: gRed, blue: gBlue, blueTop: gBlueTop, gapC: gGapC, thinRed: gValRed, thinW: 2.6, valTop: gValTop,
  lens: gLens, streak: gStreak, tag: "(g)", tagDy: 26,
  inset: { top: 804, tag: "(i)", tagDy: 18, rowDy: 39, labDy: 81, ion: "IX", conf: "d6s0", kind: "i" } });

dosPanel(rows[0], { tag: "(b)", tagDy: 26, el: "Cr", curves: dosStyle(bBluUp, bBluDn, bRedUp, bRedDn, bOrgUp, bOrgDn, bGrnUp, bGrnDn) });
dosPanel(rows[1], { tag: "(e)", tagDy: 26, el: "Mn", curves: dosStyle(eBluUp, eBluDn, eRedUp, eRedDn, eOrgUp, eOrgDn, eGrnUp, eGrnDn) });
dosPanel(rows[2], { tag: "(h)", tagDy: 26, el: "Co", curves: dosStyle(hBluUp, hBluDn, hRedUp, hRedDn, hOrgUp, hOrgDn, hGrnUp, hGrnDn) });

// bottom axes
svg.selectAll(null).data(kLabels).join("text")
  .attr("x", (d, i) => kx(kPos[i])).attr("y", 929).attr("text-anchor", "middle")
  .attr("font-size", 23).attr("font-weight", "bold").text(d => d);
svg.selectAll(null).data(dosTicks).join("text")
  .attr("x", d => dx(d)).attr("y", 929).attr("text-anchor", "middle")
  .attr("font-size", 21).attr("font-weight", "bold").text(d => Math.abs(d));

const kl = svg.append("text").attr("x", 230).attr("y", 963).attr("text-anchor", "middle")
  .attr("font-size", 24).attr("font-weight", "bold");
kl.append("tspan").attr("font-weight", "normal").text("|");
kl.append("tspan").attr("font-style", "italic").text("k");
kl.append("tspan").attr("font-weight", "normal").text("|");
svg.append("text").attr("x", 521).attr("y", 963).attr("text-anchor", "middle")
  .attr("font-size", 24).attr("font-weight", "bold").text("States per energy (DOS)");
</script>
</body>
</html>
